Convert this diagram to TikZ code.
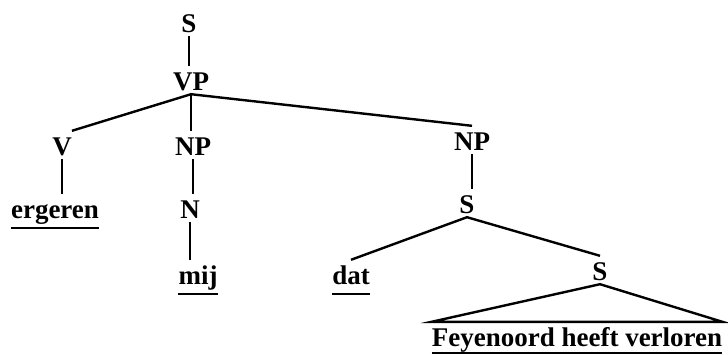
\documentclass[tikz,border=0pt]{standalone}
\usepackage{fontspec}
\setmainfont{Liberation Serif}
\usepackage{tikz}
\usetikzlibrary{calc}

\begin{document}
\begin{tikzpicture}[x=1pt, y=-1pt,
    every node/.style={font=\fontsize{27}{30}\selectfont\bfseries, inner sep=0pt,
        anchor=base, text height=24pt, text depth=4pt},
    branch/.style={line width=2.4pt},
    word/.style={text depth=10pt}]
    \useasboundingbox (0,0) rectangle (728,354);
    % Categories
    \node (s)    at (189,32)  {S};
    \node (vp)   at (191,90)  {VP};
    \node (v)    at (62,155)  {V};
    \node (np)   at (193,155) {NP};
    \node (n)    at (190,218) {N};
    \node (npc)  at (472,150) {NP};
    \node (sc)   at (467,213) {S};
    \node (ssub) at (600,280) {S};
    % Words (underlined)
    \node[word] (ergeren)   at (55,218)  {ergeren};
    \node[word] (mij)       at (198,284) {mij};
    \node[word] (dat)       at (351,284) {dat};
    \node[word, text depth=7pt] (feyenoord) at (577,346) {Feyenoord heeft verloren};
    % Vertical branches
    \foreach \a/\b in {s/vp, vp/np, v/ergeren, np/n, n/mij, npc/sc} {
        \draw[branch] (\a.south) -- (\a.south |- \b.north);
    }
    % Slanted branches
    \draw[branch] (v.north east) -- (vp.south) -- (npc.north);
    \draw[branch] (dat.north) -- (sc.south) -- (ssub.north);
    \draw[branch] (ssub.south) -- (feyenoord.north west) -- (feyenoord.north east) -- cycle;
    % Underlines
    \foreach \w in {ergeren, mij, dat, feyenoord} {
        \draw[branch] (\w.south west) -- (\w.south east);
    }
\end{tikzpicture}
\end{document}
